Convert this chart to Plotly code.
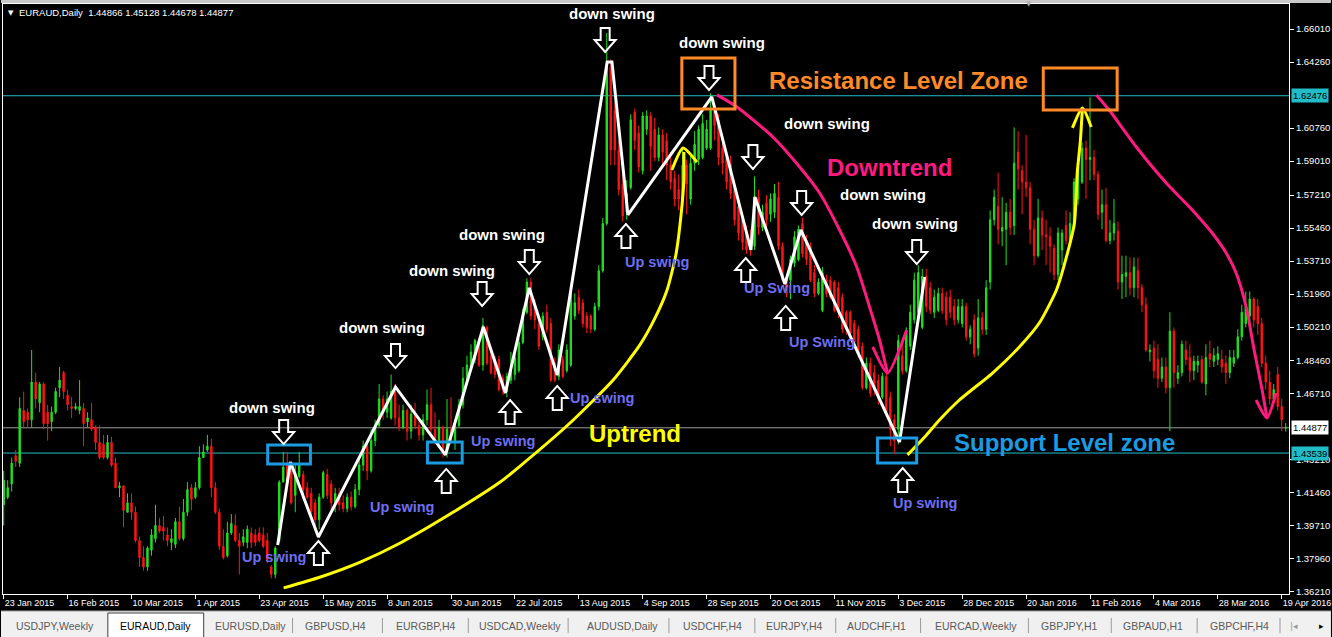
import plotly.graph_objects as go

# ---------------- data ----------------
date_labels = ["23 Jan 2015", "16 Feb 2015", "10 Mar 2015", "1 Apr 2015", "23 Apr 2015",
               "15 May 2015", "8 Jun 2015", "30 Jun 2015", "22 Jul 2015", "13 Aug 2015",
               "4 Sep 2015", "28 Sep 2015", "20 Oct 2015", "11 Nov 2015", "3 Dec 2015",
               "28 Dec 2015", "20 Jan 2016", "11 Feb 2016", "4 Mar 2016", "28 Mar 2016",
               "19 Apr 2016"]
bars_per_label = 16

price_ticks = [1.66010, 1.64260, 1.60760, 1.59010, 1.57210, 1.55460, 1.53710, 1.51960,
               1.50210, 1.48460, 1.46710, 1.43210, 1.41460, 1.39710, 1.37960, 1.36210]

opens = [
1.408,1.412,1.419,1.434,1.430,1.458,1.457,1.453,1.473,1.462,
1.472,1.457,1.452,1.457,1.470,1.478,1.466,1.460,1.459,1.458,
1.459,1.452,1.453,1.449,1.441,1.440,1.433,1.441,1.430,1.417,
1.418,1.404,1.409,1.404,1.389,1.380,1.375,1.384,1.390,1.397,
1.396,1.392,1.388,1.387,1.399,1.390,1.404,1.417,1.412,1.417,
1.433,1.437,1.439,1.417,1.404,1.386,1.381,1.393,1.397,1.389,
1.388,1.388,1.393,1.392,1.393,1.392,1.389,1.375,1.371,1.389,
1.420,1.429,1.428,1.413,1.423,1.424,1.417,1.414,1.409,1.400,
1.412,1.424,1.419,1.409,1.414,1.409,1.406,1.412,1.407,1.416,
1.429,1.439,1.426,1.442,1.450,1.464,1.457,1.454,1.468,1.454,
1.449,1.458,1.447,1.456,1.450,1.445,1.453,1.461,1.448,1.442,
1.449,1.436,1.448,1.442,1.450,1.461,1.475,1.481,1.485,1.494,
1.482,1.502,1.487,1.485,1.485,1.475,1.468,1.474,1.477,1.479,
1.494,1.510,1.526,1.513,1.504,1.497,1.510,1.504,1.483,1.476,
1.485,1.479,1.482,1.508,1.518,1.515,1.508,1.508,1.501,1.513,
1.532,1.557,1.640,1.617,1.596,1.578,1.563,1.576,1.616,1.605,
1.585,1.607,1.614,1.607,1.592,1.604,1.601,1.588,1.581,1.575,
1.570,1.588,1.570,1.589,1.591,1.592,1.597,1.597,1.617,1.612,
1.597,1.592,1.589,1.576,1.566,1.559,1.552,1.548,1.545,1.571,
1.555,1.568,1.562,1.563,1.571,1.545,1.527,1.527,1.536,1.538,
1.557,1.548,1.545,1.531,1.520,1.511,1.527,1.527,1.526,1.523,
1.518,1.510,1.510,1.504,1.501,1.492,1.470,1.483,1.478,1.474,
1.465,1.476,1.465,1.453,1.448,1.487,1.479,1.492,1.506,1.510,
1.502,1.529,1.523,1.510,1.511,1.520,1.518,1.518,1.513,1.506,
1.504,1.513,1.497,1.506,1.491,1.507,1.501,1.526,1.559,1.566,
1.553,1.554,1.563,1.556,1.595,1.585,1.579,1.576,1.554,1.540,
1.560,1.551,1.550,1.544,1.530,1.543,1.556,1.548,1.555,1.570,
1.579,1.597,1.591,1.592,1.583,1.563,1.567,1.548,1.552,1.553,
1.526,1.529,1.531,1.523,1.532,1.523,1.514,1.489,1.491,1.485,
1.475,1.481,1.470,1.500,1.475,1.478,1.490,1.486,1.479,1.482,
1.485,1.472,1.488,1.484,1.485,1.485,1.483,1.478,1.483,1.486,
1.497,1.504,1.508,1.517,1.513,1.504,1.483,1.473,1.464,1.477,
1.460,1.44866]

highs = [
1.426,1.421,1.433,1.437,1.465,1.468,1.459,1.490,1.478,1.473,
1.473,1.461,1.460,1.470,1.481,1.479,1.469,1.465,1.462,1.474,
1.462,1.457,1.462,1.450,1.450,1.445,1.445,1.444,1.433,1.420,
1.418,1.414,1.414,1.407,1.391,1.386,1.386,1.395,1.408,1.401,
1.402,1.396,1.395,1.401,1.407,1.411,1.420,1.419,1.420,1.439,
1.440,1.445,1.443,1.420,1.406,1.395,1.399,1.403,1.403,1.393,
1.395,1.397,1.396,1.395,1.396,1.396,1.393,1.376,1.386,1.421,
1.436,1.436,1.430,1.429,1.436,1.426,1.420,1.417,1.411,1.414,
1.426,1.427,1.421,1.417,1.417,1.413,1.414,1.415,1.419,1.432,
1.442,1.442,1.448,1.453,1.472,1.466,1.468,1.477,1.472,1.461,
1.461,1.459,1.461,1.462,1.454,1.456,1.469,1.470,1.457,1.453,
1.450,1.464,1.465,1.453,1.464,1.481,1.487,1.493,1.496,1.496,
1.507,1.503,1.490,1.487,1.487,1.477,1.478,1.489,1.490,1.496,
1.512,1.528,1.528,1.517,1.507,1.510,1.514,1.507,1.486,1.493,
1.487,1.493,1.525,1.520,1.522,1.517,1.510,1.509,1.515,1.535,
1.560,1.658,1.644,1.621,1.601,1.585,1.580,1.615,1.618,1.609,
1.616,1.617,1.616,1.613,1.608,1.607,1.605,1.595,1.585,1.583,
1.596,1.591,1.593,1.606,1.609,1.615,1.612,1.626,1.621,1.615,
1.601,1.596,1.593,1.580,1.570,1.563,1.556,1.554,1.582,1.575,
1.567,1.572,1.573,1.578,1.579,1.547,1.530,1.540,1.553,1.556,
1.560,1.551,1.547,1.535,1.528,1.534,1.530,1.529,1.527,1.526,
1.520,1.511,1.511,1.506,1.503,1.494,1.486,1.486,1.482,1.477,
1.478,1.479,1.468,1.456,1.498,1.495,1.502,1.514,1.531,1.535,
1.533,1.533,1.526,1.522,1.523,1.523,1.521,1.522,1.517,1.517,
1.517,1.515,1.503,1.509,1.517,1.510,1.527,1.564,1.575,1.584,
1.571,1.568,1.570,1.608,1.606,1.588,1.604,1.579,1.559,1.570,
1.564,1.559,1.555,1.546,1.555,1.554,1.564,1.563,1.581,1.591,
1.600,1.601,1.624,1.596,1.585,1.575,1.576,1.559,1.570,1.558,
1.540,1.540,1.539,1.539,1.539,1.525,1.518,1.493,1.495,1.493,
1.486,1.486,1.510,1.502,1.482,1.495,1.495,1.493,1.487,1.487,
1.487,1.493,1.495,1.491,1.492,1.490,1.487,1.490,1.490,1.501,
1.514,1.521,1.521,1.518,1.517,1.507,1.487,1.479,1.472,1.481,
1.464,1.45128]

lows = [
1.397,1.411,1.415,1.428,1.428,1.449,1.449,1.449,1.459,1.457,
1.448,1.442,1.447,1.456,1.465,1.464,1.458,1.454,1.458,1.456,
1.439,1.449,1.447,1.437,1.432,1.432,1.432,1.428,1.417,1.412,
1.396,1.404,1.400,1.388,1.375,1.373,1.373,1.381,1.388,1.393,
1.389,1.386,1.384,1.385,1.389,1.389,1.402,1.405,1.411,1.416,
1.433,1.436,1.412,1.403,1.384,1.379,1.380,1.392,1.388,1.371,
1.386,1.385,1.385,1.386,1.388,1.385,1.377,1.369,1.369,1.388,
1.420,1.417,1.408,1.404,1.422,1.411,1.411,1.402,1.397,1.395,
1.411,1.411,1.405,1.404,1.405,1.404,1.404,1.405,1.406,1.413,
1.426,1.421,1.425,1.439,1.449,1.453,1.454,1.453,1.450,1.447,
1.448,1.442,1.443,1.448,1.442,1.442,1.450,1.446,1.440,1.440,
1.433,1.433,1.440,1.437,1.449,1.459,1.473,1.479,1.483,1.481,
1.479,1.482,1.477,1.475,1.468,1.466,1.465,1.472,1.474,1.478,
1.493,1.509,1.506,1.501,1.490,1.495,1.499,1.473,1.473,1.474,
1.475,1.478,1.481,1.506,1.509,1.502,1.499,1.499,1.500,1.511,
1.531,1.556,1.588,1.588,1.572,1.558,1.559,1.575,1.596,1.584,
1.583,1.604,1.585,1.590,1.590,1.588,1.580,1.575,1.566,1.564,
1.567,1.562,1.567,1.585,1.588,1.591,1.596,1.596,1.601,1.588,
1.583,1.575,1.570,1.556,1.548,1.543,1.541,1.540,1.543,1.551,
1.553,1.555,1.558,1.560,1.543,1.526,1.518,1.517,1.534,1.537,
1.539,1.535,1.526,1.518,1.519,1.510,1.518,1.517,1.510,1.507,
1.499,1.498,1.495,1.491,1.486,1.469,1.469,1.465,1.466,1.461,
1.464,1.455,1.439,1.435,1.440,1.477,1.478,1.490,1.504,1.508,
1.501,1.510,1.509,1.507,1.510,1.509,1.503,1.507,1.503,1.504,
1.502,1.495,1.493,1.486,1.487,1.498,1.498,1.522,1.556,1.546,
1.545,1.535,1.551,1.551,1.575,1.562,1.571,1.546,1.535,1.539,
1.543,1.535,1.531,1.527,1.527,1.535,1.546,1.547,1.554,1.567,
1.578,1.570,1.580,1.580,1.559,1.554,1.547,1.546,1.548,1.522,
1.517,1.518,1.519,1.518,1.517,1.510,1.489,1.484,1.475,1.470,
1.473,1.467,1.447,1.470,1.472,1.476,1.482,1.473,1.474,1.478,
1.472,1.466,1.481,1.481,1.482,1.478,1.472,1.475,1.481,1.485,
1.495,1.502,1.501,1.502,1.498,1.481,1.469,1.461,1.462,1.458,
1.447,1.44678]

closes = [
1.421,1.417,1.430,1.431,1.459,1.452,1.453,1.473,1.464,1.472,
1.451,1.451,1.457,1.468,1.474,1.468,1.461,1.459,1.460,1.460,
1.451,1.454,1.448,1.441,1.433,1.433,1.441,1.429,1.417,1.418,
1.405,1.409,1.404,1.389,1.380,1.375,1.385,1.392,1.397,1.394,
1.394,1.389,1.390,1.399,1.390,1.404,1.416,1.411,1.417,1.433,
1.436,1.439,1.417,1.404,1.386,1.380,1.393,1.398,1.389,1.386,
1.391,1.395,1.388,1.388,1.389,1.386,1.379,1.371,1.385,1.420,
1.428,1.420,1.409,1.425,1.429,1.416,1.412,1.404,1.400,1.412,
1.425,1.413,1.409,1.414,1.408,1.406,1.412,1.407,1.416,1.429,
1.439,1.426,1.442,1.450,1.464,1.457,1.464,1.468,1.454,1.449,
1.458,1.447,1.456,1.450,1.445,1.453,1.461,1.448,1.442,1.449,
1.437,1.448,1.442,1.450,1.461,1.475,1.482,1.489,1.495,1.482,
1.503,1.483,1.478,1.477,1.469,1.469,1.476,1.479,1.486,1.494,
1.510,1.526,1.508,1.506,1.492,1.508,1.501,1.474,1.474,1.490,
1.476,1.490,1.520,1.515,1.511,1.504,1.502,1.501,1.513,1.532,
1.557,1.640,1.596,1.596,1.575,1.561,1.573,1.612,1.601,1.587,
1.614,1.614,1.598,1.592,1.604,1.595,1.588,1.579,1.570,1.570,
1.588,1.578,1.589,1.599,1.607,1.610,1.607,1.617,1.609,1.592,
1.589,1.579,1.573,1.559,1.552,1.547,1.543,1.543,1.571,1.555,
1.563,1.559,1.570,1.573,1.545,1.527,1.520,1.538,1.550,1.554,
1.541,1.538,1.527,1.520,1.526,1.531,1.520,1.518,1.511,1.510,
1.501,1.501,1.499,1.494,1.488,1.470,1.483,1.467,1.469,1.464,
1.476,1.457,1.448,1.442,1.495,1.479,1.499,1.510,1.527,1.531,
1.529,1.513,1.511,1.518,1.520,1.511,1.506,1.510,1.506,1.513,
1.513,1.497,1.501,1.488,1.507,1.501,1.523,1.559,1.571,1.554,
1.555,1.563,1.555,1.589,1.586,1.579,1.576,1.554,1.540,1.560,
1.551,1.550,1.545,1.530,1.552,1.552,1.548,1.557,1.579,1.587,
1.597,1.591,1.592,1.583,1.562,1.567,1.548,1.552,1.557,1.526,
1.530,1.531,1.523,1.534,1.523,1.514,1.490,1.490,1.479,1.475,
1.481,1.470,1.500,1.478,1.478,1.493,1.485,1.479,1.484,1.484,
1.473,1.486,1.485,1.487,1.488,1.481,1.478,1.486,1.486,1.497,
1.510,1.513,1.517,1.506,1.504,1.483,1.473,1.464,1.469,1.460,
1.453,1.44877]

# horizontal levels
resistance_level = 1.62476
support_level = 1.43539
last_price = 1.44877

# swing zigzag (bar index, price)
zigzag_bar = [68.6, 71.8, 78.8, 98.1, 110.6, 120.1, 125.6, 131.6, 138.6, 151.1, 152.3,
              156.3, 177.3, 187.1, 188.1, 195.6, 199.6, 224.3, 230.6]
zigzag_price = [1.3867, 1.4306, 1.3909, 1.4704, 1.4344, 1.5022, 1.4672, 1.5229, 1.4767,
                1.6426, 1.6426, 1.5616, 1.6241, 1.5430, 1.5711, 1.5250, 1.5536, 1.4412, 1.5287]

# hand-drawn trend curves (bar index, price)
uptrend1_bar = [70.1, 79.3, 89.3, 99.3, 112.6, 124.3, 129.3, 141.8, 152.6, 159.3, 163.1,
                166.1, 168.3, 169.6, 170.3, 170.3]
uptrend1_price = [1.3639, 1.3697, 1.3776, 1.3877, 1.4041, 1.4200, 1.4285, 1.4513, 1.4741,
                  1.4927, 1.5070, 1.5218, 1.5404, 1.5616, 1.5801, 1.5949]
uptrend1_head_bar = [167.3, 170.1, 173.6]
uptrend1_head_price = [1.5854, 1.5971, 1.5896]

uptrend2_bar = [226.3, 230.6, 234.3, 239.3, 247.6, 254.3, 259.3, 263.6, 266.1, 268.1,
                268.8, 269.6, 270.1]
uptrend2_price = [1.4344, 1.4439, 1.4529, 1.4635, 1.4778, 1.4916, 1.5043, 1.5218, 1.5393,
                  1.5573, 1.5838, 1.6013, 1.6183]
uptrend2_head_bar = [267.6, 270.1, 272.3]
uptrend2_head_price = [1.6077, 1.6183, 1.6082]

downtrend1_bar = [178.6, 183.6, 192.6, 199.3, 204.3, 209.3, 213.6, 216.8, 219.3, 221.3]
downtrend1_price = [1.6252, 1.6188, 1.6029, 1.5870, 1.5732, 1.5536, 1.5340, 1.5128,
                    1.4953, 1.4778]
downtrend1_head_bar = [217.6, 221.3, 226.1]
downtrend1_head_price = [1.4916, 1.4778, 1.5006]

downtrend2_bar = [273.6, 276.8, 283.6, 291.1, 297.6, 302.6, 306.1, 308.6, 311.1, 313.1,
                  315.1, 316.3]
downtrend2_price = [1.6252, 1.6172, 1.5976, 1.5785, 1.5642, 1.5520, 1.5414, 1.5308,
                    1.5128, 1.4900, 1.4688, 1.4540]
downtrend2_head_bar = [313.6, 316.3, 318.6]
downtrend2_head_price = [1.4635, 1.4540, 1.4672]

tab_names = ["USDJPY,Weekly", "EURAUD,Daily", "EURUSD,Daily", "GBPUSD,H4", "EURGBP,H4",
             "USDCAD,Weekly", "AUDUSD,Daily", "USDCHF,H4", "EURJPY,H4", "AUDCHF,H1",
             "EURCAD,Weekly", "GBPJPY,H1", "GBPAUD,H1", "GBPCHF,H4"]
active_tab = "EURAUD,Daily"

# ---------------- styles / layout ----------------
W, H = 1332, 637
ML, MR, MT, MB = 2, 42, 4, 43
PW, PH = W - ML - MR, H - MT - MB
X_RANGE = [-0.175, 321.825]
Y_RANGE = [1.36068, 1.67338]

GREEN = "#1fe01f"
RED = "#ff1414"
CYAN = "#22bcc8"
BLUE = "#1a9be2"
ORANGE = "#ff8a26"
PINK = "#ff1a80"
YELLOW = "#ffff00"
UPBLUE = "#6e6ef2"
FONT = "Liberation Sans"


def px(xp):  # pixel x -> paper
    return (xp - ML) / PW


def py(yp):  # pixel y -> paper
    return (H - MB - yp) / PH


bars = list(range(len(closes)))

fig = go.Figure()
fig.add_trace(go.Candlestick(
    x=bars, open=opens, high=highs, low=lows, close=closes,
    increasing=dict(line=dict(color=GREEN, width=1), fillcolor=GREEN),
    decreasing=dict(line=dict(color=RED, width=1), fillcolor=RED),
    whiskerwidth=0, hoverinfo="skip", showlegend=False))

# trend curves
for bx, by, col in [(uptrend1_bar, uptrend1_price, YELLOW), (uptrend1_head_bar, uptrend1_head_price, YELLOW),
                    (uptrend2_bar, uptrend2_price, YELLOW), (uptrend2_head_bar, uptrend2_head_price, YELLOW),
                    (downtrend1_bar, downtrend1_price, PINK), (downtrend1_head_bar, downtrend1_head_price, PINK),
                    (downtrend2_bar, downtrend2_price, PINK), (downtrend2_head_bar, downtrend2_head_price, PINK)]:
    fig.add_trace(go.Scatter(x=bx, y=by, mode="lines",
                             line=dict(color=col, width=3, shape="spline", smoothing=0.6),
                             hoverinfo="skip", showlegend=False))

# zigzag
fig.add_trace(go.Scatter(x=zigzag_bar, y=zigzag_price, mode="lines",
                         line=dict(color="white", width=3), hoverinfo="skip", showlegend=False))

shapes = []
# horizontal levels
for lvl, col in [(resistance_level, CYAN), (support_level, CYAN), (last_price, "#9a9a9a")]:
    shapes.append(dict(type="line", xref="paper", x0=0, x1=1, yref="y", y0=lvl, y1=lvl,
                       line=dict(color=col, width=1), layer="below"))

# zone boxes (bar index / price)
blue_boxes = [(66.1, 76.8, 1.4296, 1.4397), (106.1, 114.8, 1.4301, 1.4412), (218.8, 228.6, 1.4301, 1.4434)]
orange_boxes = [(169.8, 183.1, 1.6177, 1.6448), (260.3, 278.8, 1.6172, 1.6395)]
for x0, x1, y0, y1 in blue_boxes:
    shapes.append(dict(type="rect", xref="x", yref="y", x0=x0, x1=x1, y0=y0, y1=y1,
                       line=dict(color=BLUE, width=3), fillcolor="rgba(0,0,0,0)", layer="above"))
for x0, x1, y0, y1 in orange_boxes:
    shapes.append(dict(type="rect", xref="x", yref="y", x0=x0, x1=x1, y0=y0, y1=y1,
                       line=dict(color=ORANGE, width=3), fillcolor="rgba(0,0,0,0)", layer="above"))

# hollow arrows (anchor = bar index / price, body in pixels)
arrows_down_at = [(70.1, 1.4465), (98.1, 1.4868), (119.8, 1.5197), (131.6, 1.5366), (150.6, 1.6543),
                  (176.6, 1.6342), (187.6, 1.5923), (199.8, 1.5679), (228.6, 1.5419)]
arrows_up_at = [(78.8, 1.3824), (110.8, 1.4206), (126.8, 1.4571), (138.6, 1.4646), (155.8, 1.5504),
                (185.8, 1.5324), (195.8, 1.5070), (225.1, 1.4211)]
DOWN_PATH = "M -4.5,12 L 4.5,12 L 4.5,0 L 10.5,0 L 0,-12 L -10.5,0 L -4.5,0 Z"
UP_PATH = "M -4.5,-12 L 4.5,-12 L 4.5,0 L 10.5,0 L 0,12 L -10.5,0 L -4.5,0 Z"
for pts, path in [(arrows_down_at, DOWN_PATH), (arrows_up_at, UP_PATH)]:
    for ax, ay in pts:
        shapes.append(dict(type="path", xref="x", yref="y", xsizemode="pixel", ysizemode="pixel",
                           xanchor=ax, yanchor=ay, path=path,
                           line=dict(color="white", width=2), fillcolor="rgba(0,0,0,0)", layer="above"))

# window chrome: top strip, tab bar
shapes.append(dict(type="rect", xref="paper", yref="paper", x0=px(0), x1=px(W), y0=py(3), y1=py(0),
                   line=dict(width=0), fillcolor="#c8c8c8", layer="above"))
shapes.append(dict(type="rect", xref="paper", yref="paper", x0=px(0), x1=px(W), y0=py(H), y1=py(611),
                   line=dict(width=0), fillcolor="#f0f0f0", layer="above"))
shapes.append(dict(type="line", xref="paper", yref="paper", x0=px(0), x1=px(W), y0=py(611), y1=py(611),
                   line=dict(color="#a0a0a0", width=1), layer="above"))
shapes.append(dict(type="rect", xref="paper", yref="paper", x0=px(107), x1=px(203), y0=py(H + 2), y1=py(613),
                   line=dict(color="#404040", width=1), fillcolor="white", layer="above"))
for sx in [292, 382, 468, 568, 669, 755, 836, 921, 1029, 1112, 1198, 1281]:
    shapes.append(dict(type="line", xref="paper", yref="paper", x0=px(sx), x1=px(sx), y0=py(633), y1=py(618),
                       line=dict(color="#9a9a9a", width=1), layer="above"))

annotations = []
down_swing_at = [(67.3, 1.4593), (94.8, 1.5017), (112.3, 1.5324), (124.8, 1.5510), (152.3, 1.6681),
                 (179.8, 1.6532), (206.1, 1.6098), (220.1, 1.5722), (228.3, 1.5568)]
for ax, ay in down_swing_at:
    annotations.append(dict(x=ax, y=ay, xref="x", yref="y", text="<b>down swing</b>", showarrow=False,
                            font=dict(family=FONT, size=15, color="white"), xanchor="center", yanchor="middle"))
up_swing_at = [(67.8, 1.3803, "Up swing"), (99.8, 1.4068, "Up swing"), (125.1, 1.4418, "Up swing"),
               (149.8, 1.4646, "Up swing"), (163.6, 1.5366, "Up swing"), (193.6, 1.5229, "Up Swing"),
               (204.8, 1.4942, "Up Swing"), (230.8, 1.4089, "Up swing")]
for ax, ay, t in up_swing_at:
    annotations.append(dict(x=ax, y=ay, xref="x", yref="y", text="<b>%s</b>" % t, showarrow=False,
                            font=dict(family=FONT, size=14.5, color=UPBLUE), xanchor="center", yanchor="middle"))
big_labels = [(158.1, 1.4455, "Uptrend", YELLOW), (221.8, 1.5865, "Downtrend", PINK),
              (224.1, 1.6331, "Resistance Level Zone", ORANGE), (265.6, 1.4412, "Support Level zone", BLUE)]
for ax, ay, t, col in big_labels:
    annotations.append(dict(x=ax, y=ay, xref="x", yref="y", text="<b>%s</b>" % t, showarrow=False,
                            font=dict(family=FONT, size=24, color=col), xanchor="center", yanchor="middle"))

# price tags on the right axis
for lvl, bg in [(resistance_level, CYAN), (last_price, "white"), (support_level, CYAN)]:
    annotations.append(dict(x=1, y=lvl, xref="paper", yref="y", text="%.5f" % lvl, showarrow=False,
                            xanchor="left", yanchor="middle", xshift=2, bgcolor=bg, borderpad=1,
                            font=dict(family=FONT, size=9.5, color="black")))

# header
annotations.append(dict(x=px(5), y=py(13), xref="paper", yref="paper", text="▼", showarrow=False,
                        xanchor="left", yanchor="middle", font=dict(family="DejaVu Sans", size=7, color="white")))
annotations.append(dict(x=px(16), y=py(13), xref="paper", yref="paper",
                        text="EURAUD,Daily  %.5f %.5f %.5f %.5f" % (opens[-1], highs[-1], lows[-1], closes[-1]),
                        showarrow=False, xanchor="left", yanchor="middle",
                        font=dict(family=FONT, size=9.5, color="white")))
annotations.append(dict(x=px(1030), y=py(4), xref="paper", yref="paper", text="▼", showarrow=False,
                        xanchor="center", yanchor="middle", font=dict(family="DejaVu Sans", size=7, color="#b0b0b0")))

# tabs
tab_centers = [54, 155, 250, 335, 425, 520, 622, 713, 795, 877, 977, 1070, 1154, 1240]
for name, cx in zip(tab_names, tab_centers):
    annotations.append(dict(x=px(cx), y=py(626), xref="paper", yref="paper", text=name, showarrow=False,
                            xanchor="center", yanchor="middle",
                            font=dict(family=FONT, size=10.5, color="black" if name == active_tab else "#5a5a5a")))
annotations.append(dict(x=px(1295), y=py(626), xref="paper", yref="paper", text="|◂", showarrow=False,
                        xanchor="center", yanchor="middle", font=dict(family="DejaVu Sans", size=9, color="#9a9a9a")))
annotations.append(dict(x=px(1323), y=py(626), xref="paper", yref="paper", text="▸", showarrow=False,
                        xanchor="center", yanchor="middle", font=dict(family="DejaVu Sans", size=9, color="black")))

fig.update_layout(
    width=W, height=H, margin=dict(l=ML, r=MR, t=MT, b=MB, pad=0),
    paper_bgcolor="black", plot_bgcolor="black", showlegend=False, dragmode=False,
    shapes=shapes, annotations=annotations, boxgap=0.5,
    xaxis=dict(range=X_RANGE, rangeslider=dict(visible=False), showgrid=False, zeroline=False,
               showline=True, mirror=True, linecolor="white", linewidth=1,
               tickmode="array", tickvals=[i * bars_per_label for i in range(len(date_labels))],
               ticktext=date_labels, ticks="outside", ticklen=4, tickcolor="white",
               ticklabelposition="outside right",
               tickfont=dict(family=FONT, size=9, color="white"), fixedrange=True),
    yaxis=dict(range=Y_RANGE, side="right", showgrid=False, zeroline=False,
               showline=True, mirror=True, linecolor="white", linewidth=1,
               tickmode="array", tickvals=price_ticks, ticktext=["%.5f" % v for v in price_ticks],
               ticks="outside", ticklen=4, tickcolor="white",
               tickfont=dict(family=FONT, size=9.5, color="white"), fixedrange=True),
)

fig.write_html("out.html", config={"displayModeBar": False},
               post_script="document.body.style.margin='0px';document.body.style.padding='0px';"
                           "document.body.style.overflow='hidden';document.body.style.background='black';")
